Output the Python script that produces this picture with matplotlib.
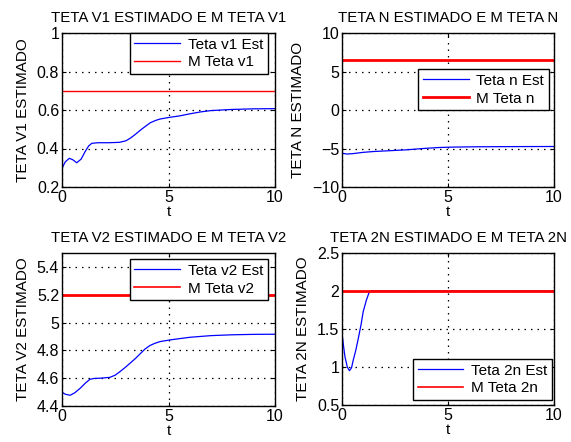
import matplotlib
matplotlib.use("Agg")
import matplotlib.pyplot as plt

plt.rcParams['font.family'] = ['Liberation Sans', 'DejaVu Sans']
plt.rcParams['font.size'] = 11
plt.rcParams['axes.unicode_minus'] = True

# Dados
t_v1 = [0, 0.15, 0.34, 0.5, 0.69, 0.9, 1.08, 1.25, 1.4, 1.7, 2.2, 2.7, 3.0, 3.2,
        3.45, 3.7, 3.95, 4.15, 4.4, 4.6, 5.0, 5.5, 6.0, 6.5, 7.0, 8.0, 9.0, 10.0]
th_v1 = [0.297, 0.33, 0.349, 0.342, 0.326, 0.345, 0.383, 0.413, 0.427, 0.430, 0.430,
         0.432, 0.440, 0.453, 0.474, 0.497, 0.518, 0.534, 0.546, 0.553, 0.561, 0.569,
         0.580, 0.590, 0.597, 0.603, 0.606, 0.607]
m_v1 = 0.7

t_n = [0, 0.22, 0.5, 1.0, 1.5, 2.0, 2.5, 3.05, 3.6, 4.1, 4.6, 5.2, 6.2, 7.5, 8.5, 10.0]
th_n = [-5.6, -5.72, -5.67, -5.5, -5.39, -5.32, -5.25, -5.17, -5.05, -4.95, -4.87,
        -4.82, -4.78, -4.76, -4.75, -4.74]
m_n = 6.5

t_v2 = [0, 0.15, 0.38, 0.6, 0.85, 1.1, 1.31, 1.5, 1.8, 2.25, 2.5, 2.72, 2.95, 3.19,
        3.45, 3.66, 3.9, 4.13, 4.35, 4.6, 5.07, 5.5, 6.0, 7.0, 8.0, 9.0, 10.0]
th_v2 = [4.499, 4.485, 4.477, 4.495, 4.527, 4.565, 4.592, 4.598, 4.600, 4.606, 4.622,
         4.647, 4.675, 4.707, 4.742, 4.774, 4.81, 4.835, 4.85, 4.863, 4.875, 4.884,
         4.894, 4.906, 4.912, 4.915, 4.916]
m_v2 = 5.2

t_2n = [0, 0.07, 0.14, 0.25, 0.35, 0.45, 0.53, 0.65, 0.77, 0.9, 1.0, 1.15, 1.29,
        1.4, 2, 4, 6, 8, 10]
th_2n = [1.45, 1.28, 1.135, 1.0, 0.951, 0.99, 1.09, 1.22, 1.377, 1.56, 1.728, 1.88,
         1.99, 2.0, 2.0, 2.0, 2.0, 2.0, 2.0]
m_2n = 2.0

fig = plt.figure(figsize=(5.71, 4.42), dpi=100)

W, H = 571.0, 442.0
def rect(x0, x1, y0, y1):
    return [x0 / W, 1 - y1 / H, (x1 - x0) / W, (y1 - y0) / H]

paineis = [
    # (rect, t, est, m, titulo, ylabel, nomes, ylim, yticks, ylabels, lw vermelho, lw legenda, legenda)
    (rect(62, 275, 33, 187), t_v1, th_v1, m_v1, 'TETA V1 ESTIMADO E M TETA V1',
     'TETA V1 ESTIMADO', ['Teta v1 Est', 'M Teta v1'], (0.2, 1),
     [0.2, 0.4, 0.6, 0.8, 1], ['0.2', '0.4', '0.6', '0.8', '1'], 1.0, 1.0,
     dict(loc='upper right', bbox_to_anchor=(0.965, 1.0))),
    (rect(342, 554, 33, 187), t_n, th_n, m_n, 'TETA N ESTIMADO E M TETA N',
     'TETA N ESTIMADO', ['Teta n Est', 'M Teta n'], (-10, 10),
     [-10, -5, 0, 5, 10], ['\u221210', '\u22125', '0', '5', '10'], 2.0, 2.0,
     dict(loc='upper right', bbox_to_anchor=(0.975, 0.765))),
    (rect(62, 275, 253, 406), t_v2, th_v2, m_v2, 'TETA V2 ESTIMADO E M TETA V2',
     'TETA V2 ESTIMADO', ['Teta v2 Est', 'M Teta v2'], (4.4, 5.5),
     [4.4, 4.6, 4.8, 5.0, 5.2, 5.4], ['4.4', '4.6', '4.8', '5', '5.2', '5.4'], 2.0, 1.2,
     dict(loc='upper right', bbox_to_anchor=(0.965, 0.96))),
    (rect(342, 554, 253, 405), t_2n, th_2n, m_2n, 'TETA 2N ESTIMADO E M TETA 2N',
     'TETA 2N ESTIMADO', ['Teta 2n Est', 'M Teta 2n'], (0.5, 2.5),
     [0.5, 1, 1.5, 2, 2.5], ['0.5', '1', '1.5', '2', '2.5'], 2.0, 1.2,
     dict(loc='lower right', bbox_to_anchor=(0.99, 0.033))),
]

for r, t, est, m, titulo, ylab, nomes, ylim, yt, ytl, lwr, lwl, lkw in paineis:
    ax = fig.add_axes(r)
    ax.plot(t, est, color='blue', lw=0.9, label=nomes[0])
    ax.plot([0, 10], [m, m], color='red', lw=lwr, label=nomes[1])
    ax.set_xlim(0, 10)
    ax.set_ylim(*ylim)
    ax.set_xticks([0, 5, 10])
    ax.set_xticklabels(['0', '5', '10'])
    ax.set_yticks(yt)
    ax.set_yticklabels(ytl)
    ax.grid(True, color='black', linestyle=(0, (1.2, 4)), linewidth=0.9)
    ax.tick_params(direction='in', length=3, top=True, right=True, pad=2,
                   labelsize=11.5)
    for s in ax.spines.values():
        s.set_linewidth(1.0)
    ax.set_title(titulo, fontsize=10.8, pad=8)
    ax.set_xlabel('t', labelpad=0)
    ax.set_ylabel(ylab, labelpad=5)
    leg = ax.legend(fancybox=False, framealpha=1, edgecolor='black',
                    borderaxespad=0, handlelength=3.0, borderpad=0.3,
                    labelspacing=0.25, handletextpad=0.5, **lkw)
    leg.get_frame().set_linewidth(1.0)
    leg.get_lines()[1].set_linewidth(lwl)

fig.savefig('out.png', dpi=100)
